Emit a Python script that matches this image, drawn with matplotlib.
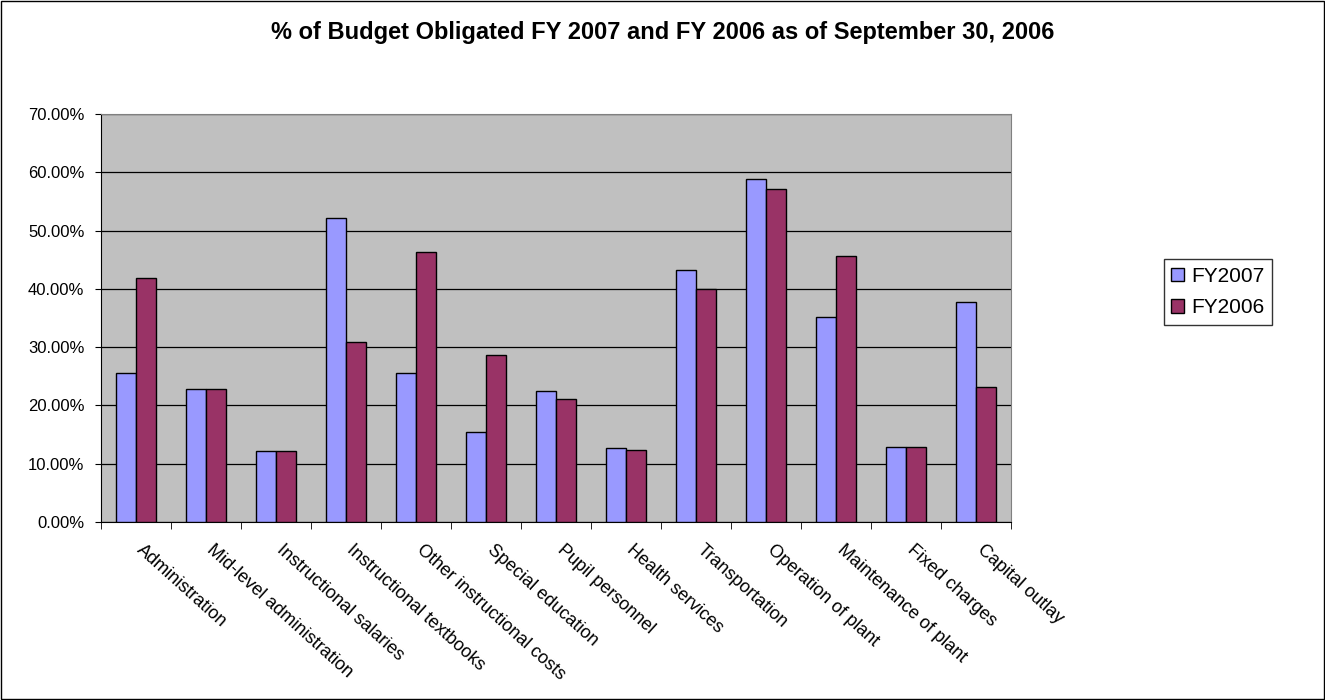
import matplotlib
matplotlib.use("Agg")
import matplotlib.pyplot as plt
import matplotlib.transforms as mtransforms
import numpy as np
from matplotlib.patches import Rectangle
from matplotlib.ticker import FuncFormatter

plt.rcParams['font.family'] = ['Liberation Sans', 'DejaVu Sans']

categories = ["Administration", "Mid-level administration", "Instructional salaries",
              "Instructional textbooks", "Other instructional costs", "Special education",
              "Pupil personnel", "Health services", "Transportation", "Operation of plant",
              "Maintenance of plant", "Fixed charges", "Capital outlay"]
fy2007 = [25.6, 22.8, 12.1, 52.1, 25.6, 15.5, 22.5, 12.65, 43.3, 58.8, 35.2, 12.9, 37.8]
fy2006 = [41.9, 22.8, 12.1, 30.9, 46.4, 28.7, 21.1, 12.4, 40.0, 57.1, 45.6, 12.9, 23.1]

fig = plt.figure(figsize=(13.25, 7), dpi=100)
ax = fig.add_axes([101 / 1325, 1 - 522 / 700, 910 / 1325, 408 / 700])
ax.set_facecolor("#C0C0C0")

x = np.arange(len(categories))
w = 0.286
ax.bar(x - w / 2, fy2007, w, color="#9999FF", edgecolor="black", linewidth=1, label="FY2007", zorder=3)
ax.bar(x + w / 2, fy2006, w, color="#993366", edgecolor="black", linewidth=1, label="FY2006", zorder=3)

ax.set_xlim(-0.5, len(categories) - 0.5)
ax.set_ylim(0, 70)
ax.set_yticks(np.arange(0, 71, 10))
ax.yaxis.set_major_formatter(FuncFormatter(lambda v, p: f"{v:.2f}%"))
ax.grid(axis="y", color="black", linewidth=0.9, zorder=1)

ax.set_xticks(x)
ax.set_xticklabels(categories, rotation=-42, ha="left", va="top", rotation_mode="anchor", fontsize=13)
ax.tick_params(axis="x", which="major", length=0, pad=14)
shift = mtransforms.ScaledTranslation(9 / 100, 0, fig.dpi_scale_trans)
for lab in ax.get_xticklabels():
    lab.set_transform(lab.get_transform() + shift)
ax.set_xticks(np.arange(-0.5, len(categories), 1), minor=True)
ax.tick_params(axis="x", which="minor", length=5, direction="out", color="black")
ax.tick_params(axis="y", length=4, direction="out", labelsize=12, color="black", pad=8)

for s in ["top", "right"]:
    ax.spines[s].set_color("#808080")
for s in ["left", "bottom"]:
    ax.spines[s].set_color("black")

fig.text(0.5, 1 - 32 / 700, "% of Budget Obligated FY 2007 and FY 2006 as of September 30, 2006",
         ha="center", va="center", fontsize=17, fontweight="bold")

leg = fig.legend(loc="center", bbox_to_anchor=(1218 / 1325, 1 - 292 / 700), frameon=True,
                 fancybox=False, edgecolor="black", fontsize=15, handlelength=0.6, handleheight=0.6,
                 borderpad=0.35, labelspacing=0.6, handletextpad=0.35, borderaxespad=0)
leg.get_frame().set_linewidth(1)

fig.patches.append(Rectangle((0.001, 0.001), 0.998, 0.998, transform=fig.transFigure,
                             fill=False, edgecolor="black", linewidth=1))

fig.savefig("out.png", dpi=100)
